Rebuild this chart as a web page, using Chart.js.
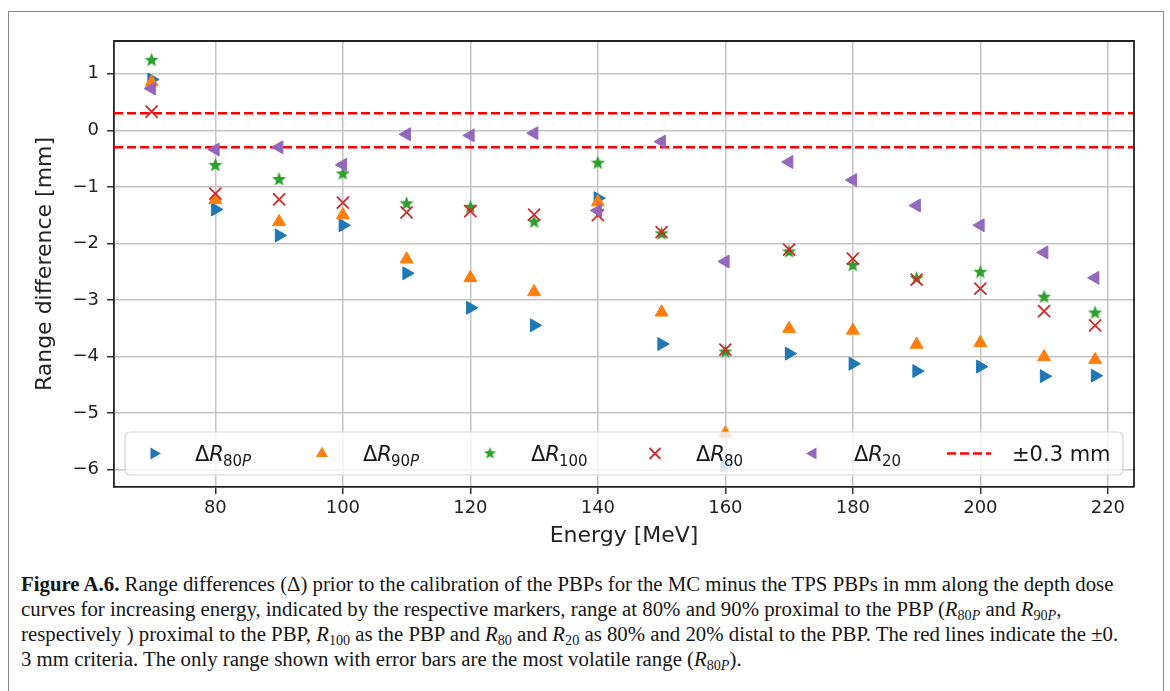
<!DOCTYPE html>
<html>
<head>
<meta charset="utf-8">
<script src="https://cdn.jsdelivr.net/npm/chart.js@4.4.1/dist/chart.umd.min.js"></script>
<style>
  html, body { margin: 0; padding: 0; background: #fff; }
  body { width: 1170px; height: 691px; position: relative; overflow: hidden; }
  .frame { position: absolute; left: 8px; top: 11px; width: 1154px; height: 720px; border: 1.5px solid #8a8a8a; }
  #plot { position: absolute; left: 0; top: 0; }
  .caption { position: absolute; left: 21px; top: 571px; font-family: "Liberation Serif", "Times New Roman", serif;
             font-size: 20.8px; line-height: 25px; color: #151515; }
  .caption div { white-space: nowrap; }
  .caption sub { font-size: 0.68em; vertical-align: -0.28em; line-height: 0; }
</style>
</head>
<body>
<div class="frame"></div>
<canvas id="plot" width="1170" height="560"></canvas>
<div class="caption" id="caption">
  <div><b>Figure A.6.</b> Range differences (Δ) prior to the calibration of the PBPs for the MC minus the TPS PBPs in mm along the depth dose</div>
  <div>curves for increasing energy, indicated by the respective markers, range at 80% and 90% proximal to the PBP (<i>R</i><sub>80<i>P</i></sub> and <i>R</i><sub>90<i>P</i></sub>,</div>
  <div>respectively ) proximal to the PBP, <i>R</i><sub>100</sub> as the PBP and <i>R</i><sub>80</sub> and <i>R</i><sub>20</sub> as 80% and 20% distal to the PBP. The red lines indicate the ±0.</div>
  <div>3 mm criteria. The only range shown with error bars are the most volatile range (<i>R</i><sub>80<i>P</i></sub>).</div>
</div>
<script>
// beam energies [MeV]
const energies = [70, 80, 90, 100, 110, 120, 130, 140, 150, 160, 170, 180, 190, 200, 210, 218];

// range differences MC - TPS [mm]
const dR80P = [0.90, -1.40, -1.86, -1.68, -2.53, -3.14, -3.45, -1.20, -3.78, -5.93, -3.95, -4.13, -4.26, -4.18, -4.35, -4.34];
const dR90P = [0.85, -1.23, -1.62, -1.50, -2.28, -2.61, -2.86, -1.27, -3.22, -5.36, -3.51, -3.54, -3.79, -3.76, -4.01, -4.06];
const dR100 = [1.24, -0.62, -0.87, -0.77, -1.30, -1.36, -1.62, -0.58, -1.83, -3.92, -2.15, -2.39, -2.62, -2.51, -2.95, -3.23];
const dR80  = [0.33, -1.12, -1.22, -1.28, -1.45, -1.43, -1.49, -1.50, -1.80, -3.88, -2.11, -2.27, -2.64, -2.80, -3.20, -3.45];
const dR20  = [0.74, -0.34, -0.30, -0.61, -0.07, -0.09, -0.05, -1.42, -0.20, -2.32, -0.56, -0.88, -1.33, -1.68, -2.16, -2.61];

// tolerance band [mm]
const tolerance = 0.3;

// axes
const xTicks = [80, 100, 120, 140, 160, 180, 200, 220];
const yTicks = [-6, -5, -4, -3, -2, -1, 0, 1];
const xLimits = [64.1, 224.1];
const yLimits = [-6.31, 1.58];

const C = {
  blue: '#1f77b4', orange: '#ff7f0e', green: '#2ca02c', red: '#d62728', purple: '#9467bd', line: '#ff0000'
};

Chart.defaults.font.family = '"DejaVu Sans", sans-serif';
Chart.defaults.color = '#222';

function pts(ys) {
  return energies.map((e, i) => ({ x: e, y: ys[i] }));
}

// filled five-point star, matplotlib '*' style
function starImage(r, color) {
  const s = Math.ceil(r * 2 + 2);
  const c = document.createElement('canvas');
  c.width = c.height = s;
  const g = c.getContext('2d');
  g.fillStyle = color;
  g.beginPath();
  for (let i = 0; i < 10; i++) {
    const a = -Math.PI / 2 + i * Math.PI / 5;
    const rr = i % 2 ? r * 0.42 : r;
    g.lineTo(s / 2 + rr * Math.cos(a), s / 2 + rr * Math.sin(a));
  }
  g.closePath();
  g.fill();
  return c;
}

function triangle(ctx, x, y, r, rotDeg) {
  let a = rotDeg * Math.PI / 180;
  ctx.beginPath();
  for (let i = 0; i < 3; i++) {
    ctx.lineTo(x + Math.sin(a) * r, y - Math.cos(a) * r);
    a += Math.PI * 2 / 3;
  }
  ctx.closePath();
  ctx.fill();
}

// draws Δ R_sub with italic R and subscript
function mathLabel(ctx, x, y, sub) {
  const size = 21, subSize = 15;
  ctx.textBaseline = 'alphabetic';
  ctx.textAlign = 'left';
  ctx.fillStyle = '#1a1a1a';
  ctx.font = size + 'px "DejaVu Sans"';
  ctx.fillText('Δ', x, y);
  x += ctx.measureText('Δ').width;
  ctx.font = 'italic ' + size + 'px "DejaVu Sans"';
  ctx.fillText('R', x, y);
  x += ctx.measureText('R').width - 1;
  for (const ch of sub) {
    const it = /[A-Z]/.test(ch);
    ctx.font = (it ? 'italic ' : '') + subSize + 'px "DejaVu Sans"';
    ctx.fillText(ch, x, y + 5);
    x += ctx.measureText(ch).width;
  }
}

const legendPlugin = {
  id: 'mathLegend',
  afterDatasetsDraw(chart) {
    const ctx = chart.ctx;
    const area = chart.chartArea;
    const left = area.left + 11, right = area.right - 11;
    const bottom = area.bottom - 12, top = bottom - 43;
    const cy = (top + bottom) / 2;
    ctx.save();
    ctx.beginPath();
    ctx.roundRect(left, top, right - left, bottom - top, 5);
    ctx.fillStyle = 'rgba(255,255,255,0.8)';
    ctx.fill();
    ctx.strokeStyle = '#d4d4d4';
    ctx.lineWidth = 1.2;
    ctx.stroke();

    const mx = [29, 197, 365, 530, 688].map(v => left + v);
    const ty = cy + 7;
    // ΔR80P
    ctx.fillStyle = C.blue;
    triangle(ctx, mx[0], cy, 7, 90);
    mathLabel(ctx, mx[0] + 41, ty, '80P');
    // ΔR90P
    ctx.fillStyle = C.orange;
    triangle(ctx, mx[1], cy, 7, 0);
    mathLabel(ctx, mx[1] + 41, ty, '90P');
    // ΔR100
    const st = starImage(6.5, C.green);
    ctx.drawImage(st, mx[2] - st.width / 2, cy - st.height / 2);
    mathLabel(ctx, mx[2] + 41, ty, '100');
    // ΔR80
    ctx.strokeStyle = C.red;
    ctx.lineWidth = 1.8;
    ctx.beginPath();
    ctx.moveTo(mx[3] - 5.5, cy - 5.5); ctx.lineTo(mx[3] + 5.5, cy + 5.5);
    ctx.moveTo(mx[3] - 5.5, cy + 5.5); ctx.lineTo(mx[3] + 5.5, cy - 5.5);
    ctx.stroke();
    mathLabel(ctx, mx[3] + 41, ty, '80');
    // ΔR20
    ctx.fillStyle = C.purple;
    triangle(ctx, mx[4], cy, 7, -90);
    mathLabel(ctx, mx[4] + 41, ty, '20');
    // ±0.3 mm
    ctx.strokeStyle = C.line;
    ctx.lineWidth = 2.5;
    ctx.setLineDash([9, 4]);
    ctx.beginPath();
    ctx.moveTo(left + 822, cy); ctx.lineTo(left + 866, cy);
    ctx.stroke();
    ctx.setLineDash([]);
    ctx.fillStyle = '#1a1a1a';
    ctx.font = '21px "DejaVu Sans"';
    ctx.fillText('±0.3 mm', left + 887, ty);
    ctx.restore();
  },
  afterDraw(chart) {
    // top and right spines
    const ctx = chart.ctx;
    const a = chart.chartArea;
    ctx.save();
    ctx.strokeStyle = '#222';
    ctx.lineWidth = 1.8;
    ctx.beginPath();
    ctx.moveTo(a.left, a.top); ctx.lineTo(a.right, a.top); ctx.lineTo(a.right, a.bottom);
    ctx.stroke();
    ctx.restore();
  }
};

const markerBase = { showLine: false, pointRadius: 7.5, pointHoverRadius: 7.5, borderWidth: 1 };

new Chart(document.getElementById('plot'), {
  type: 'scatter',
  data: {
    datasets: [
      { ...markerBase, label: 'ΔR80P', data: pts(dR80P), pointStyle: 'triangle', rotation: 90,
        backgroundColor: C.blue, borderColor: C.blue, order: 5 },
      { ...markerBase, label: 'ΔR90P', data: pts(dR90P), pointStyle: 'triangle',
        backgroundColor: C.orange, borderColor: C.orange, order: 4 },
      { ...markerBase, label: 'ΔR100', data: pts(dR100), pointStyle: starImage(7.5, C.green),
        backgroundColor: C.green, borderColor: C.green, order: 3 },
      { ...markerBase, label: 'ΔR80', data: pts(dR80), pointStyle: 'crossRot', pointRadius: 8.5, borderWidth: 1.8,
        backgroundColor: C.red, borderColor: C.red, order: 2 },
      { ...markerBase, label: 'ΔR20', data: pts(dR20), pointStyle: 'triangle', rotation: -90,
        backgroundColor: C.purple, borderColor: C.purple, order: 1 },
      { label: '+0.3 mm', type: 'line', data: [{ x: xLimits[0], y: tolerance }, { x: xLimits[1], y: tolerance }],
        borderColor: C.line, borderWidth: 2.5, borderDash: [9, 4], pointRadius: 0, order: 10 },
      { label: '-0.3 mm', type: 'line', data: [{ x: xLimits[0], y: -tolerance }, { x: xLimits[1], y: -tolerance }],
        borderColor: C.line, borderWidth: 2.5, borderDash: [9, 4], pointRadius: 0, order: 10 }
    ]
  },
  options: {
    responsive: false,
    animation: false,
    events: [],
    layout: { padding: { left: 0, top: 41, right: 36, bottom: 0 } },
    plugins: { legend: { display: false }, tooltip: { enabled: false } },
    scales: {
      x: {
        type: 'linear',
        min: xLimits[0], max: xLimits[1],
        afterBuildTicks: s => { s.ticks = xTicks.map(v => ({ value: v })); },
        afterFit: s => { s.height = 73; },
        ticks: { font: { size: 18 }, padding: 4, color: '#222' },
        grid: { color: '#c4c4c4', lineWidth: 1.5, tickColor: '#333', tickLength: 7 },
        border: { color: '#222', width: 1.8 },
        title: { display: true, text: 'Energy [MeV]', font: { size: 22 }, color: '#222', padding: { top: 0, bottom: 11 } }
      },
      y: {
        type: 'linear',
        min: yLimits[0], max: yLimits[1],
        afterBuildTicks: s => { s.ticks = yTicks.map(v => ({ value: v })); },
        afterFit: s => { s.width = 114; },
        ticks: { font: { size: 18 }, padding: 8, color: '#222',
                 callback: v => (v < 0 ? '\u2212' + Math.abs(v) : String(v)) },
        grid: { color: '#c4c4c4', lineWidth: 1.5, tickColor: '#333', tickLength: 7 },
        border: { color: '#222', width: 1.8 },
        title: { display: true, text: 'Range difference [mm]', font: { size: 22 }, color: '#222', padding: { top: 32, bottom: 0 } }
      }
    }
  },
  plugins: [legendPlugin]
});
</script>
</body>
</html>
